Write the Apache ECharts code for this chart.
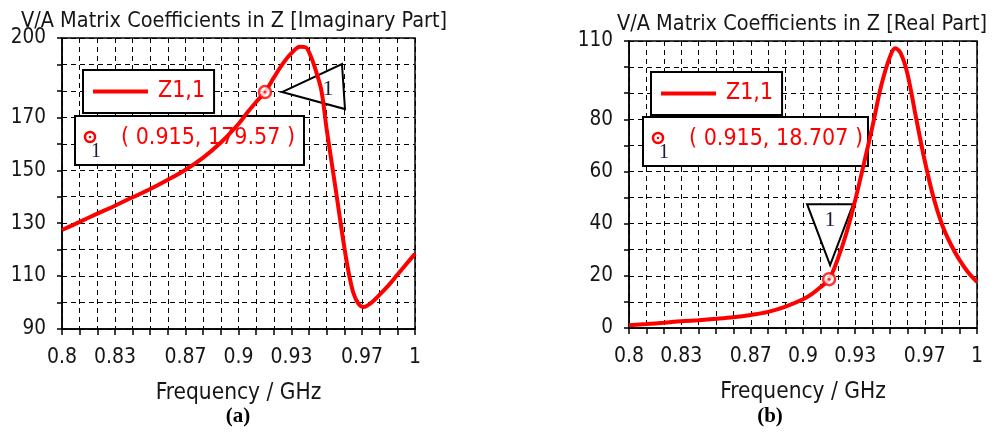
<!DOCTYPE html>
<html>
<head>
<meta charset="utf-8">
<script src="https://cdn.jsdelivr.net/npm/echarts@6/dist/echarts.min.js"></script>
<style>
  html, body { margin: 0; padding: 0; background: #fff; }
  #chart { width: 994px; height: 432px; }
</style>
</head>
<body>
<div id="chart"></div>
<script>
// frequency (GHz) and imaginary part of Z1,1
const freqA = [0.800, 0.810, 0.820, 0.830, 0.840, 0.850, 0.860, 0.870, 0.880, 0.890,
  0.900, 0.905, 0.910, 0.915, 0.920, 0.925, 0.930, 0.935, 0.938, 0.941,
  0.944, 0.947, 0.950, 0.953, 0.956, 0.959, 0.962, 0.965, 0.968, 0.971,
  0.975, 0.980, 0.985, 0.990, 0.995, 1.000];
const imagZ = [127.4, 130.5, 133.6, 136.6, 139.8, 142.9, 146.4, 150.2, 154.8, 160.5,
  167.5, 171.8, 175.8, 179.57, 185.0, 190.2, 194.3, 196.7, 196.5, 193.0,
  187.3, 180.0, 165.3, 152.0, 138.6, 125.0, 112.8, 103.8, 99.5, 98.3,
  99.8, 103.0, 106.5, 110.5, 114.5, 118.4];

// frequency (GHz) and real part of Z1,1
const freqB = [0.800, 0.810, 0.820, 0.830, 0.840, 0.850, 0.860, 0.870, 0.880, 0.890,
  0.900, 0.905, 0.910, 0.915, 0.920, 0.925, 0.930, 0.935, 0.940, 0.945,
  0.950, 0.953, 0.956, 0.960, 0.965, 0.970, 0.975, 0.980, 0.985, 0.990,
  0.995, 1.000];
const realZ = [1.1, 1.5, 2.0, 2.6, 3.0, 3.5, 4.1, 5.0, 6.2, 8.2,
  11.0, 13.0, 15.6, 18.707, 26.5, 36.5, 49.0, 63.0, 77.5, 93.0,
  104.0, 107.2, 105.5, 97.5, 80.5, 64.0, 50.0, 39.5, 32.0, 26.0,
  21.3, 17.7];

const markerFreq = 0.915;
const markerImag = 179.57;
const markerReal = 18.707;

const xTickLabels = [0.8, 0.83, 0.87, 0.9, 0.93, 0.97, 1];
const yTickLabelsA = [90, 110, 130, 150, 170, 200];
const yTickLabelsB = [0, 20, 40, 60, 80, 110];

const chart = echarts.init(document.getElementById('chart'));

const cond = "'DejaVu Sans Condensed', 'DejaVu Sans'";
const serif = 'Liberation Serif';
const ink = '#161616';
const red = '#ff0000';
const gridLine = { show: true, lineStyle: { color: '#000', width: 1, type: [5, 4] } };

function pairs(xs, ys) {
  return xs.map((x, i) => [x, ys[i]]);
}

function xAxisFor(idx) {
  return {
    gridIndex: idx,
    type: 'value',
    min: 0.8,
    max: 1,
    interval: 0.01,
    name: 'Frequency / GHz',
    nameLocation: 'middle',
    nameGap: 53,
    nameTextStyle: { fontFamily: cond, fontSize: 22.5, color: ink },
    axisLine: { show: true, onZero: false, lineStyle: { color: '#000', width: 1.5 } },
    axisTick: { show: true, length: 6, lineStyle: { color: '#000', width: 1.5 } },
    axisLabel: {
      margin: 18,
      fontFamily: cond,
      fontSize: 21,
      color: ink,
      formatter: v => {
        const k = Math.round(v * 100);
        const hit = xTickLabels.find(t => Math.round(t * 100) === k);
        return hit === undefined ? '' : String(hit);
      }
    },
    splitLine: gridLine
  };
}

function yAxisFor(idx, min, max, labels) {
  return {
    gridIndex: idx,
    type: 'value',
    min: min,
    max: max,
    interval: 10,
    axisLine: { show: true, onZero: false, lineStyle: { color: '#000', width: 1.5 } },
    axisTick: { show: true, length: 5, lineStyle: { color: '#000', width: 1.5 } },
    axisLabel: {
      margin: 16,
      fontFamily: cond,
      fontSize: 20.5,
      color: ink,
      formatter: v => (labels.indexOf(Math.round(v)) >= 0 ? String(Math.round(v)) : '')
    },
    splitLine: gridLine
  };
}

function legendFor(left, top) {
  return {
    data: ['Z1,1'],
    left: left,
    top: top,
    icon: 'rect',
    itemWidth: 55,
    itemHeight: 4,
    padding: [10, 9, 10, 10],
    backgroundColor: '#fff',
    borderColor: '#000',
    borderWidth: 2,
    borderRadius: 0,
    selectedMode: false,
    textStyle: { fontFamily: cond, fontSize: 23, color: red, padding: [0, 0, 0, 5] }
  };
}

function markerSeries(idx, y) {
  return [{
    type: 'scatter',
    xAxisIndex: idx,
    yAxisIndex: idx,
    data: [[markerFreq, y]],
    symbol: 'circle',
    symbolSize: 12,
    itemStyle: { color: '#fff', borderColor: red, borderWidth: 2.5 },
    z: 5,
    silent: true
  }, {
    type: 'scatter',
    xAxisIndex: idx,
    yAxisIndex: idx,
    data: [[markerFreq, y]],
    symbol: 'circle',
    symbolSize: 3,
    itemStyle: { color: red },
    z: 6,
    silent: true
  }];
}

chart.setOption({
  animation: false,
  title: [
    { text: 'V/A Matrix Coefficients in Z [Imaginary Part]', left: 16, top: 5,
      textStyle: { fontFamily: cond, fontSize: 21.5, fontWeight: 'normal', color: ink } },
    { text: 'V/A Matrix Coefficients in Z [Real Part]', left: 612, top: 8,
      textStyle: { fontFamily: cond, fontSize: 21.5, fontWeight: 'normal', color: ink } }
  ],
  legend: [legendFor(83, 70), legendFor(651, 72)],
  grid: [
    { left: 62, top: 38, width: 353, height: 291, show: true, borderColor: '#000', borderWidth: 1.5 },
    { left: 629, top: 41, width: 348, height: 287, show: true, borderColor: '#000', borderWidth: 1.5 }
  ],
  xAxis: [xAxisFor(0), xAxisFor(1)],
  yAxis: [yAxisFor(0, 90, 200, yTickLabelsA), yAxisFor(1, 0, 110, yTickLabelsB)],
  series: [
    {
      name: 'Z1,1', type: 'line', xAxisIndex: 0, yAxisIndex: 0,
      data: pairs(freqA, imagZ), showSymbol: false, smooth: 0.35,
      lineStyle: { color: red, width: 4 }, itemStyle: { color: red }, z: 3
    },
    {
      name: 'Z1,1', type: 'line', xAxisIndex: 1, yAxisIndex: 1,
      data: pairs(freqB, realZ), showSymbol: false, smooth: 0.35,
      lineStyle: { color: red, width: 4 }, itemStyle: { color: red }, z: 3
    },
    ...markerSeries(0, markerImag),
    ...markerSeries(1, markerReal)
  ]
});

// marker read-out boxes and the numbered triangles
function readout(x, y, w, value) {
  return {
    type: 'group', x: x, y: y, z: 20,
    children: [
      { type: 'rect', shape: { x: 0, y: 0, width: w, height: 49 },
        style: { fill: '#fff', stroke: '#000', lineWidth: 2 } },
      { type: 'circle', shape: { cx: 15, cy: 21, r: 5 },
        style: { fill: '#fff', stroke: red, lineWidth: 2.5 } },
      { type: 'circle', shape: { cx: 15, cy: 21, r: 1.3 }, style: { fill: red } },
      { type: 'text', x: 21, y: 36,
        style: { text: '1', fontFamily: serif, fontSize: 20, fill: '#1a1a3a', align: 'center', verticalAlign: 'middle' } },
      { type: 'text', x: 46, y: 22,
        style: { text: '( ' + markerFreq + ', ' + value + ' )', fontFamily: cond, fontSize: 23, fill: red, verticalAlign: 'middle' } }
    ]
  };
}

function triangle(tip, pts, label) {
  return {
    type: 'group', x: tip[0], y: tip[1], z: 1,
    children: [
      { type: 'polygon', shape: { points: pts },
        style: { fill: '#fff', stroke: '#000', lineWidth: 2 } },
      { type: 'text', x: label[0], y: label[1],
        style: { text: '1', fontFamily: serif, fontSize: 22, fill: '#1a1a3a', align: 'center', verticalAlign: 'middle' } }
    ]
  };
}

const pA = chart.convertToPixel({ gridIndex: 0 }, [markerFreq, markerImag]);
const pB = chart.convertToPixel({ gridIndex: 1 }, [markerFreq, markerReal]);

chart.setOption({
  graphic: [
    readout(75, 116, 229, markerImag),
    readout(643, 117, 225, markerReal),
    triangle([pA[0] + 17, pA[1]], [[0, 0], [60, -28], [63, 17]], [46, -3]),
    triangle([pB[0] + 1, pB[1] - 14], [[0, 0], [-23, -61], [23, -61]], [0, -45]),
    { type: 'text', x: 238, y: 417, z: 20,
      style: { text: '(a)', fontFamily: serif, fontSize: 21, fontWeight: 'bold', fill: '#000', align: 'center', verticalAlign: 'middle' } },
    { type: 'text', x: 770, y: 417, z: 20,
      style: { text: '(b)', fontFamily: serif, fontSize: 21, fontWeight: 'bold', fill: '#000', align: 'center', verticalAlign: 'middle' } }
  ]
});
</script>
</body>
</html>
